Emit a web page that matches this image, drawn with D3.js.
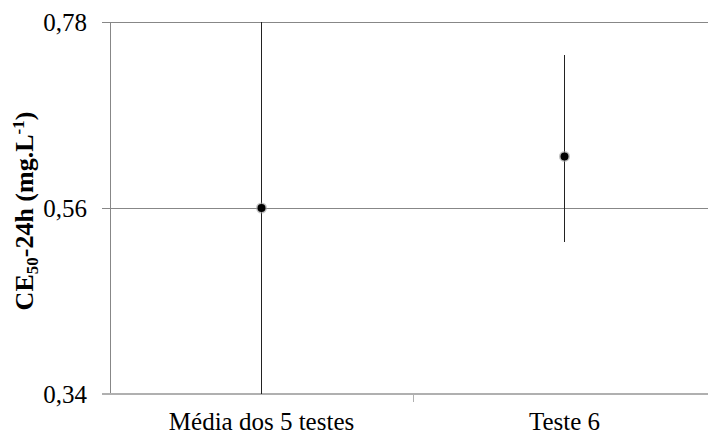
<!DOCTYPE html>
<html><head><meta charset="utf-8">
<script src="https://cdn.jsdelivr.net/npm/d3@7"></script>
<style>body{margin:0;background:#fff}svg{display:block}</style>
</head><body>
<script>
const categories = ["Média dos 5 testes", "Teste 6"];
const means = [0.56, 0.621];
const lowers = [0.34, 0.520];
const uppers = [0.78, 0.741];
const yTicks = [0.34, 0.56, 0.78];

const W = 708, H = 437;
const m = {left: 110, top: 22, bottom: 43, right: -8};
const svg = d3.select("body").append("svg").attr("width", W).attr("height", H);
const x = d3.scaleBand().domain(categories).range([m.left, W - m.right]);
const y = d3.scaleLinear().domain([0.34, 0.78]).range([H - m.bottom, m.top]);
const font = "Liberation Serif";

// gridlines
svg.append("g").selectAll("line").data(yTicks.slice(1)).join("line")
  .attr("x1", m.left).attr("x2", W).attr("y1", d => y(d)).attr("y2", d => y(d))
  .attr("stroke", "#878787").attr("stroke-width", 1).attr("shape-rendering", "crispEdges");

// y axis
const yAxis = svg.append("g").attr("transform", `translate(${m.left},0)`)
  .call(d3.axisLeft(y).tickValues(yTicks).tickSize(8).tickPadding(15)
    .tickFormat(d => d3.format(".2f")(d).replace(".", ",")));
yAxis.attr("font-family", null).attr("font-size", null);
yAxis.selectAll("path,line").attr("stroke", "#878787").attr("shape-rendering", "crispEdges");
yAxis.select(".domain").attr("d", `M0,${y(0.78)}V${y(0.34)}`);
yAxis.selectAll("text").style("font-family", font).style("font-size", "25px").attr("fill", "#000");

// x axis
const xAxis = svg.append("g").attr("transform", `translate(0,${y(0.34)})`)
  .call(d3.axisBottom(x).tickSize(0).tickPadding(18));
xAxis.attr("font-family", null).attr("font-size", null);
xAxis.select(".domain").attr("d", `M${m.left - 8},0H${W}`).attr("stroke", "#b0b0b0").attr("stroke-width", 2);
xAxis.selectAll("text").style("font-family", font).style("font-size", "25px").attr("fill", "#000");
// category separator tick
svg.append("line").attr("x1", x(categories[1])).attr("x2", x(categories[1]))
  .attr("y1", y(0.34)).attr("y2", y(0.34) + 8).attr("stroke", "#b0b0b0").attr("shape-rendering", "crispEdges");

// error bars
const cx = d => x(d) + x.bandwidth() / 2;
svg.append("g").selectAll("line").data(categories).join("line")
  .attr("x1", cx).attr("x2", cx)
  .attr("y1", (d, i) => y(uppers[i])).attr("y2", (d, i) => y(lowers[i]))
  .attr("stroke", "#222").attr("stroke-width", 1).attr("shape-rendering", "crispEdges");

// points
const pts = svg.append("g");
pts.selectAll("circle.halo").data(categories).join("circle").attr("class", "halo")
  .attr("cx", cx).attr("cy", (d, i) => y(means[i])).attr("r", 5.5).attr("fill", "#999").attr("opacity", 0.6);
pts.selectAll("circle.pt").data(categories).join("circle").attr("class", "pt")
  .attr("cx", cx).attr("cy", (d, i) => y(means[i])).attr("r", 4).attr("fill", "#000");

// y title
const t = svg.append("text")
  .attr("transform", `translate(33,211) rotate(-90)`)
  .attr("text-anchor", "middle")
  .style("font-family", font).style("font-size", "26px")
  .attr("font-weight", "bold").attr("fill", "#000");
t.append("tspan").text("CE");
t.append("tspan").text("50").style("font-size", "17px").attr("dy", 5);
t.append("tspan").text("-24h (mg.L").attr("dy", -5);
t.append("tspan").text("-1").style("font-size", "17px").attr("dy", -9);
t.append("tspan").text(")").attr("dy", 9);
</script>
</body></html>
